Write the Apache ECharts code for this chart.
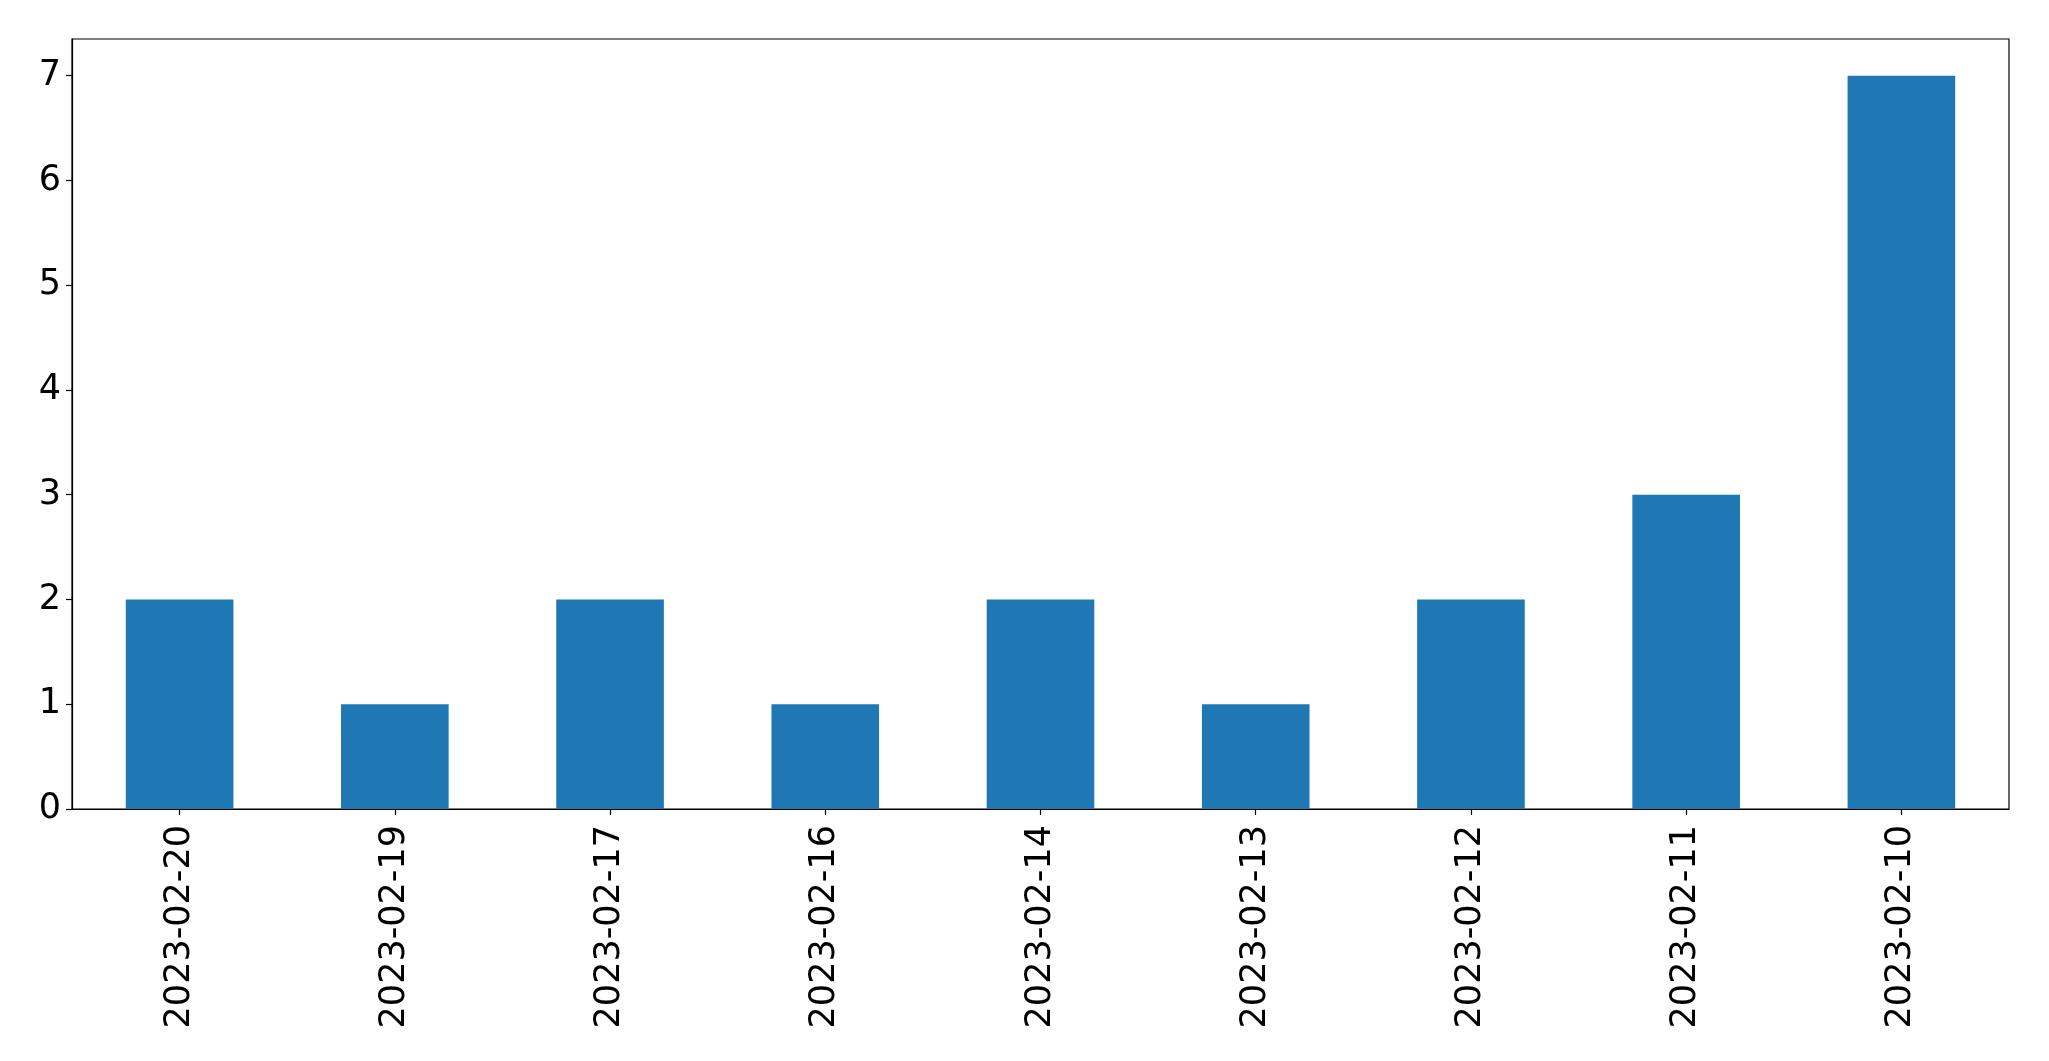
<!DOCTYPE html>
<html>
<head>
<meta charset="utf-8">
<script src="https://cdn.jsdelivr.net/npm/echarts@6/dist/echarts.min.js"></script>
<style>
html,body{margin:0;padding:0;background:#fff;}
#chart{width:2049px;height:1061px;}
</style>
</head>
<body>
<div id="chart"></div>
<script>
const categories = ['2023-02-20','2023-02-19','2023-02-17','2023-02-16','2023-02-14','2023-02-13','2023-02-12','2023-02-11','2023-02-10'];
const values = [2, 1, 2, 1, 2, 1, 2, 3, 7];
const yTicks = [0, 1, 2, 3, 4, 5, 6, 7];

const chart = echarts.init(document.getElementById('chart'), null, {renderer: 'canvas'});
const font = 'DejaVu Sans';
chart.setOption({
  animation: false,
  backgroundColor: '#ffffff',
  grid: {left: 72, top: 39, right: 40, bottom: 252, show: true, borderColor: '#000', borderWidth: 1.2, backgroundColor: 'transparent'},
  xAxis: {
    type: 'category',
    data: categories,
    boundaryGap: true,
    axisLine: {show: true, lineStyle: {color: '#000', width: 1.2}},
    axisTick: {show: true, alignWithLabel: true, length: 6, lineStyle: {color: '#000', width: 1.2}},
    axisLabel: {rotate: 90, color: '#000', fontFamily: font, fontSize: 35, margin: 16, interval: 0}
  },
  yAxis: {
    type: 'value',
    min: 0,
    max: 7.35,
    interval: 1,
    splitLine: {show: false},
    axisLine: {show: true, lineStyle: {color: '#000', width: 1.2}},
    axisTick: {show: true, length: 6, lineStyle: {color: '#000', width: 1.2}, customValues: yTicks},
    axisLabel: {color: '#000', fontFamily: font, fontSize: 35, margin: 11, customValues: yTicks}
  },
  series: [{
    type: 'bar',
    data: values,
    barWidth: '50%',
    itemStyle: {color: '#1f77b4'}
  }]
});
</script>
</body>
</html>
